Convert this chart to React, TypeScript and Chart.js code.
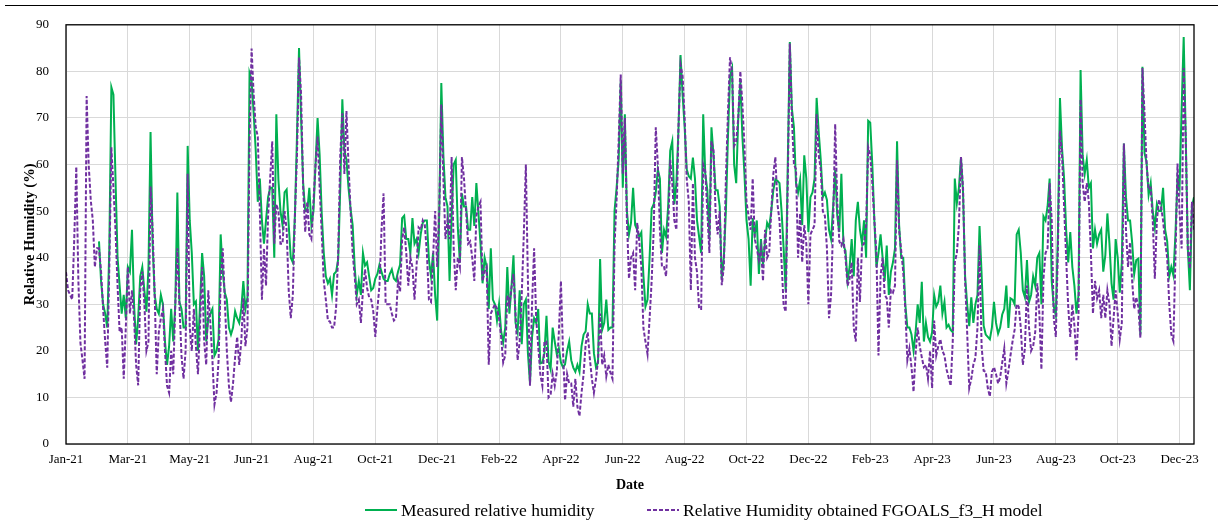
import React, { useEffect, useRef } from "react";
import { Chart, registerables } from "chart.js";

Chart.register(...registerables);

// ---- data ----
const startDate = "2021-01-01";
const dayStep = 2; // values below are read every 2 days from 1 Jan 2021
const lastDay = 1094;
const tickStepDays = 60;
const tickLabels = [
  "Jan-21", "Mar-21", "May-21", "Jun-21", "Aug-21", "Oct-21", "Dec-21",
  "Feb-22", "Apr-22", "Jun-22", "Aug-22", "Oct-22", "Dec-22",
  "Feb-23", "Apr-23", "Jun-23", "Aug-23", "Oct-23", "Dec-23",
];
const seriesNames = [
  "Measured relative humidity",
  "Relative Humidity obtained FGOALS_f3_H model",
];

const measuredRH: (number | null)[] = [
  null, null, null, null, null, null, null, null,
  null, null, null, null, null, null, null, null,
  43.5, 35, 30, 28, 25, 42, 76.6, 75,
  57, 40, 34, 28, 32, 27, 38, 37,
  46, 30, 21.4, 27, 36, 38, 33, 28.4,
  38, 67, 43, 32, 29, 28, 32, 30,
  22, 17, 21, 29, 22, 30, 54, 30.5,
  29, 25, 25, 64, 48, 41, 30, 30.6,
  20, 30, 41, 36, 22, 27, 28, 29,
  19, 20, 22.5, 45, 37, 32.5, 31, 25,
  23.5, 25, 28.5, 27, 26, 29, 35, 29,
  31.5, 79.6, 78, 71, 63, 52, 57, 48,
  43, 48, 53, 55, 55, 40, 70.8, 56.7,
  50, 47, 54, 54.6, 47, 40, 39, 49,
  66, 85, 70, 56, 50, 50, 55, 47,
  50, 60, 70, 62, 49.6, 41, 36, 34.5,
  35.5, 32, 36.5, 37, 39.7, 55, 74, 63,
  61, 55, 50.5, 47, 38, 32, 35, 32,
  41, 38.3, 39, 36, 33, 33.5, 35.5, 36.5,
  38.5, 37, 35.5, 35, 35, 36.5, 37.5, 35.5,
  35, 37, 38.5, 48.5, 49, 44, 44, 41,
  48.5, 43, 44, 41, 45, 47.5, 48, 48,
  39.5, 36, 41, 32, 26.5, 50, 77.5, 62,
  53, 51, 35, 49, 60, 61, 46.5, 39,
  53.8, 51, 51, 46, 46, 53, 46.8, 56,
  49.6, 43, 34.5, 40, 38, 29, 42, 31,
  30, 26.5, 30, 24.2, 21.8, 25, 38, 28,
  33.5, 40.5, 26, 24, 33, 21.4, 30, 31,
  19.5, 13, 23, 27, 26, 29, 17.3, 17.5,
  19.5, 27.5, 17.7, 16, 25, 22, 19.3, 20.5,
  17.5, 16.5, 17.1, 20, 22, 18, 16.4, 15.5,
  17, 15.5, 21, 23.5, 24.2, 30, 28, 28,
  19.5, 16.5, 17.5, 39.7, 24.5, 26, 31, 24.5,
  25, 25, 50, 55, 61, 77.8, 55, 70.8,
  50, 45, 47.5, 55, 47, 46, 44.5, 45.4,
  36.2, 29.5, 31, 40, 50.5, 51.5, 54, 59,
  57, 41, 46, 44.5, 51, 63, 65, 51.5,
  56, 67.5, 83.5, 75, 68, 59, 57.5, 57,
  61.5, 57, 48, 44.5, 41, 70.8, 58, 54.5,
  44, 68, 62, 54.5, 54.5, 51, 35.5, 40,
  50, 66, 79, 80.7, 60, 56, 70, 77.8,
  66, 58, 48, 44, 34, 48.5, 45, 48,
  36.5, 44, 38.5, 43.5, 47.5, 46.5, 50, 54.5,
  56.8, 56.5, 56, 50, 42, 32.7, 60, 86.3,
  72, 68, 56, 54, 56.7, 47, 62, 57,
  45.5, 53, 54, 57, 74.3, 67, 61, 53,
  54, 52.4, 46, 44, 51, 58.8, 49, 45.5,
  58, 42.6, 41.5, 35, 38, 44, 36, 48,
  52, 46, 43, 48, 40, 69.4, 69, 60,
  48, 38, 41, 45, 40, 35, 42.6, 32,
  37, 39, 42, 65, 47, 40, 40, 30,
  25, 25, 23.5, 20, 24, 30, 26, 34.8,
  22, 26, 23, 22, 24, 32, 29.5, 30.5,
  34, 28, 30.5, 25, 25.6, 24.5, 24, 57,
  51.7, 55, 61.6, 54, 36, 30, 25.3, 31.5,
  26, 30, 32, 46.8, 36.5, 25.4, 23.5, 23,
  22.5, 25, 30.5, 26, 23.7, 25, 27.8, 29,
  34, 24.9, 31.3, 31, 30, 45, 46, 41,
  33, 31.5, 39.5, 30.5, 32, 36, 34, 40,
  41, 30, 48.9, 48, 51, 57, 35, 29.5,
  27.6, 45, 74.3, 63.5, 57, 46, 39, 45.5,
  38, 34, 28, 32, 80.3, 62, 58, 61,
  55, 56, 42, 46, 43, 45, 46, 37,
  40.5, 49.5, 43, 34.5, 31, 44, 40, 32.5,
  39, 64.5, 53, 48, 48, 43.3, 36.5, 39.5,
  39.8, 23.5, 81, 62.5, 60.5, 53.5, 56, 50,
  46.5, 51.5, 50, 50, 55, 46, 43.5, 36,
  38, 36.2, 45, 57, 55, 72, 87.4, 66,
  42, 33, 51, 53,
];

const modelRH: number[] = [
  36.9, 33, 32, 31, 44, 59.5, 35, 21.7,
  18, 14, 74.7, 60, 52.4, 48, 38, 42,
  42, 37, 29, 22, 16.4, 38, 63.7, 55,
  46, 34, 24, 25, 14, 25, 38, 28,
  33, 27, 17, 12.6, 33, 37, 30, 20,
  22, 55.3, 46, 32, 15, 24, 27, 29,
  20, 12.5, 11, 20, 15, 30, 42, 30,
  19, 14, 20, 58, 25, 20, 29, 21,
  15, 25.6, 38, 22, 17, 33, 26, 18,
  8.5, 11, 18, 35, 42, 31, 20, 12.5,
  9, 13, 18.6, 23, 17, 22, 31.3, 21,
  25, 65, 84.9, 75, 68, 66, 50, 31,
  42, 34, 49, 57, 65, 43, 51.5, 50,
  43, 43, 50, 46, 33, 27, 32, 49,
  62, 83, 75, 55, 45.5, 52, 45, 44,
  52, 60, 66, 55, 45.4, 35, 31, 26.5,
  26.3, 25, 25, 29.5, 41, 62, 71, 58,
  71.5, 60, 50, 41, 36, 30, 31, 26,
  33, 37.5, 33.5, 31.5, 31, 28.5, 23, 29,
  34, 46, 53.8, 30, 30, 30, 28, 26.5,
  27, 35, 32.7, 44, 46.5, 41, 34, 40,
  38, 31, 38.3, 46.5, 46, 48, 47, 41,
  31, 30.5, 40, 50, 38, 50, 72.9, 57,
  44, 48, 44, 61.6, 42, 33, 40, 38,
  61.6, 57, 50, 43, 43.5, 40, 35, 49,
  51, 52, 35, 37, 38, 17, 28, 29,
  30, 29, 27, 23, 17.5, 19, 32, 30,
  33.5, 36.5, 28, 18, 22, 32, 45, 60,
  35, 12.5, 30, 42, 27, 21, 15, 12.5,
  22, 22, 10, 10.5, 15, 12.5, 15.5, 24,
  35, 20, 9.4, 15, 13, 13, 8, 14,
  8, 6, 11, 15, 21.5, 24, 18.5, 14,
  11, 14, 18, 28, 17, 19, 14.5, 17,
  15.3, 14, 42.6, 52.5, 65, 79.3, 58, 70,
  48, 35.5, 40, 41, 33, 47.5, 43.5, 38,
  24.9, 22, 19.3, 27, 35, 46, 68, 60,
  46, 38, 38, 36, 46, 61, 56, 48,
  46, 68, 81.4, 79, 70, 57, 52, 33,
  56, 40, 36.9, 29, 29, 60, 58.5, 50,
  41, 65, 63, 50, 45, 50, 34.1, 38,
  57, 71, 83, 80, 64, 65, 70, 80,
  73, 64, 52, 49, 46, 57, 44, 42,
  39.5, 42, 35, 46, 40, 41, 50, 58,
  61.6, 51.5, 48, 39, 29.8, 28.4, 56, 86,
  70, 60, 59, 40, 49.5, 39, 47, 43,
  30, 45, 46, 47, 70.8, 62, 59, 50,
  49, 42, 27, 32, 47, 68.7, 52, 43.5,
  42.6, 44, 40, 34, 35.5, 39, 25, 22,
  40, 30.5, 42.6, 43, 47, 63.7, 62, 56,
  48, 41, 19, 36, 40, 32, 31.3, 25,
  33, 32.5, 34, 60.9, 46, 41.5, 37, 29,
  18, 20.5, 16.5, 11.2, 19.5, 25, 21, 18.6,
  16.5, 17, 14, 20, 12, 26.5, 19, 21,
  22.5, 20, 19, 16, 14.3, 12.5, 22, 39,
  41, 47, 61.6, 55, 35, 24, 12, 14,
  17, 18.5, 25, 42.6, 21, 15.7, 15.5, 12,
  10.2, 15.5, 16.5, 15, 13, 14.3, 17.5, 20.5,
  13, 15.7, 19, 22, 24.5, 30, 29.5, 25,
  17, 20.5, 34, 25, 20, 21, 24, 34.5,
  28, 16, 35.5, 41, 42, 56, 48, 27,
  23, 42, 67.3, 62, 51, 40, 29.5, 23,
  30, 25.5, 18, 28, 74, 56, 52, 56,
  52, 41, 28, 35, 31.3, 33, 27, 32,
  27, 33, 30, 21, 27, 33, 28, 22.5,
  26, 64.5, 46, 38, 43.3, 35, 29, 31.5,
  29.5, 22.8, 80.7, 71, 60, 54.6, 55, 48,
  35.5, 48, 52.5, 51, 48, 43.3, 40, 30,
  23.5, 22.1, 40, 60.2, 50, 42, 80.7, 65,
  42, 37.6, 52, 46,
];

// ---- styles ----
const FONT = "'Liberation Serif', 'Times New Roman', serif";
const GREEN = "#00B050";
const PURPLE = "#7030A0";
const DASH = [4, 2];

const plotFrame = {
  id: "plotFrame",
  afterDatasetsDraw(chart: any) {
    const { ctx, chartArea } = chart;
    const { left, top, right, bottom } = chartArea;
    ctx.save();
    ctx.strokeStyle = "#000";
    ctx.lineWidth = 1.3;
    ctx.strokeRect(left, top, right - left, bottom - top);
    ctx.restore();
  },
};

export default function App() {
  const canvasRef = useRef<HTMLCanvasElement | null>(null);

  useEffect(() => {
    document.body.style.margin = "0";
    const canvas = canvasRef.current;
    if (!canvas) return;
    const toPoints = (arr: (number | null)[]) =>
      arr.map((v, i) => ({ x: i * dayStep, y: v }));

    const chart = new Chart(canvas, {
      type: "line",
      data: {
        datasets: [
          {
            label: seriesNames[0],
            data: toPoints(measuredRH) as any,
            borderColor: GREEN,
            backgroundColor: GREEN,
            borderWidth: 2,
            pointRadius: 0,
            tension: 0,
            order: 2,
          },
          {
            label: seriesNames[1],
            data: toPoints(modelRH) as any,
            borderColor: PURPLE,
            backgroundColor: PURPLE,
            borderWidth: 2,
            borderDash: DASH,
            pointRadius: 0,
            tension: 0,
            order: 1,
          },
        ],
      },
      options: {
        responsive: false,
        maintainAspectRatio: false,
        animation: false,
        layout: { padding: { left: 22, right: 24, top: 19, bottom: 38 } },
        plugins: {
          legend: { display: false },
          tooltip: { enabled: false },
        },
        scales: {
          x: {
            type: "linear",
            min: 0,
            max: lastDay,
            afterFit: (s: any) => {
              s.height = 50;
            },
            grid: { color: "#d9d9d9", lineWidth: 1, drawTicks: false },
            border: { display: false },
            ticks: {
              stepSize: tickStepDays,
              includeBounds: false,
              autoSkip: false,
              maxRotation: 0,
              minRotation: 0,
              padding: 8,
              color: "#000",
              font: { family: FONT, size: 13 },
              callback: (v: any) => tickLabels[Math.round(Number(v) / tickStepDays)] ?? "",
            },
            title: {
              display: true,
              text: "Date",
              color: "#000",
              font: { family: FONT, size: 14, weight: "bold" },
              padding: 0,
            },
          },
          y: {
            min: 0,
            max: 90,
            afterFit: (s: any) => {
              s.width = 44;
            },
            grid: { color: "#d9d9d9", lineWidth: 1, drawTicks: false },
            border: { display: false },
            ticks: {
              stepSize: 10,
              padding: 17,
              color: "#000",
              font: { family: FONT, size: 13 },
            },
            title: {
              display: true,
              text: "Relative Humidity (%)",
              color: "#000",
              font: { family: FONT, size: 14.5, weight: "bold" },
              padding: 0,
            },
          },
        },
      },
      plugins: [plotFrame],
    });
    return () => chart.destroy();
  }, []);

  const legendText: React.CSSProperties = {
    fontFamily: FONT,
    fontSize: 17.5,
    color: "#000",
    lineHeight: "20px",
    marginLeft: 4,
    whiteSpace: "nowrap",
  };

  return (
    <div style={{ position: "relative", width: 1218, height: 532, background: "#fff", overflow: "hidden" }} data-start={startDate}>
      <canvas ref={canvasRef} width={1218} height={532} style={{ display: "block", position: "absolute", left: 0, top: 0 }} />
      <div style={{ position: "absolute", left: 5, top: 5, width: 1213, height: 1, background: "#000" }} />
      <div style={{ position: "absolute", left: 365, top: 500, height: 20, display: "flex", alignItems: "center" }}>
        <svg width={32} height={4}>
          <line x1={0} y1={2} x2={32} y2={2} stroke={GREEN} strokeWidth={2} />
        </svg>
        <span style={legendText}>{seriesNames[0]}</span>
      </div>
      <div style={{ position: "absolute", left: 647, top: 500, height: 20, display: "flex", alignItems: "center" }}>
        <svg width={32} height={4}>
          <line x1={0} y1={2} x2={32} y2={2} stroke={PURPLE} strokeWidth={2} strokeDasharray={DASH.join(" ")} />
        </svg>
        <span style={legendText}>{seriesNames[1]}</span>
      </div>
    </div>
  );
}
